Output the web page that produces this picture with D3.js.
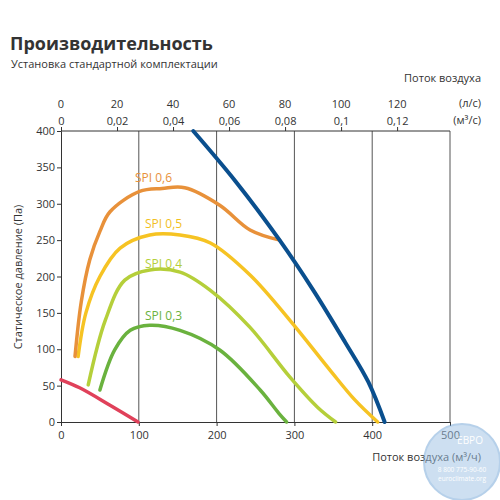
<!DOCTYPE html><html><head><meta charset="utf-8"><script src="https://cdn.jsdelivr.net/npm/d3@7"></script>
<style>body{margin:0;background:#fff}text{font-family:"Open Sans",sans-serif;fill:#333}</style></head><body>
<svg id="c" width="500" height="500"></svg>
<script>
const xTicks=[0,100,200,300,400,500];
const yTicks=[0,50,100,150,200,250,300,350,400];
const lsTicks=[0,20,40,60,80,100,120];
const m3sTicks=["0","0,02","0,04","0,06","0,08","0,1","0,12"];
const maxCurve=[[170,400],[225,330],[281,250],[325,180],[365,110],[395,55],[416,0]];
const spi06=[[18,90],[26,165],[37,223],[50,262],[63,289],[101,317],[130,321],[159,322],[204,298],[243,264],[281,250]];
const spi05=[[22,90],[32,150],[50,200],[76,239],[114,257],[153,257],[192,246],[243,202],[294,140],[346,71],[378,30],[407,0]];
const spi04=[[35,51],[57,140],[82,195],[114,209],[153,206],[192,181],[243,130],[294,62],[330,20],[353,0]];
const spi03=[[50,44],[69,99],[89,126],[114,133],[153,126],[204,99],[256,44],[280,12],[290,0]];
const minCurve=[[0,58],[24,47],[63,23],[99,0]];
const labels=[["SPI 0,6",95,330,"#e8913a"],["SPI 0,5",108,266,"#f2c01e"],["SPI 0,4",108,212,"#b5cf3a"],["SPI 0,3",108,140,"#6ab23e"]];
const svg=d3.select("#c");
const x=d3.scaleLinear().domain([0,500]).range([61,450]);
const y=d3.scaleLinear().domain([0,400]).range([422,131]);
svg.append("text").attr("x",10).attr("y",50).style("font-size","18px").style("font-weight","bold").text("Производительность");
svg.append("text").attr("x",11).attr("y",68).style("font-size","11px").text("Установка стандартной комплектации");
xTicks.slice(1).forEach(t=>svg.append("line").attr("x1",x(t)).attr("x2",x(t)).attr("y1",y(0)).attr("y2",y(400)).attr("stroke","#555").attr("stroke-width",1));
svg.append("line").attr("x1",x(0)).attr("x2",x(500)).attr("y1",y(400)).attr("y2",y(400)).attr("stroke","#333");
const xa=svg.append("g").attr("transform",`translate(0,${y(0)})`).call(d3.axisBottom(x).tickValues(xTicks).tickSize(4).tickPadding(5));
const ya=svg.append("g").attr("transform",`translate(${x(0)},0)`).call(d3.axisLeft(y).tickValues(yTicks).tickSize(4).tickPadding(2));
[xa,ya].forEach(g=>{g.selectAll("text").style("font-size","11px").style("font-family","Open Sans").attr("fill","#333");g.selectAll("line,path").attr("stroke","#333");});
const xt=d3.scaleLinear().domain([0,500/3.6]).range([61,450]);
svg.append("g").attr("transform",`translate(0,${y(400)})`).call(d3.axisTop(xt).tickValues(lsTicks).tickFormat((d,i)=>m3sTicks[i]).tickSize(4).tickPadding(2)).call(g=>{g.select("path").remove();g.selectAll("text").style("font-size","11px").attr("fill","#333");g.selectAll("line").attr("stroke","#333");});
lsTicks.forEach(v=>svg.append("text").attr("x",xt(v)).attr("y",108).attr("text-anchor","middle").style("font-size","11px").text(v));
svg.append("text").attr("x",481).attr("y",107).attr("text-anchor","end").style("font-size","11px").text("(л/с)");
svg.append("text").attr("x",481).attr("y",124).attr("text-anchor","end").style("font-size","11px").text("(м³/с)");
svg.append("text").attr("x",481).attr("y",82).attr("text-anchor","end").style("font-size","11px").text("Поток воздуха");
svg.append("text").attr("x",481).attr("y",461).attr("text-anchor","end").style("font-size","11px").text("Поток воздуха (м³/ч)");
svg.append("text").attr("transform","translate(22,277) rotate(-90)").attr("text-anchor","middle").style("font-size","11px").text("Статическое давление (Па)");
const line=d3.line().x(d=>x(d[0])).y(d=>y(d[1])).curve(d3.curveCatmullRom);
[[spi03,"#6ab23e"],[spi04,"#b5cf3a"],[spi05,"#f6c323"],[spi06,"#e8913a"],[minCurve,"#e0415a"],[maxCurve,"#0a4f8e"]].forEach(([d,c])=>
 svg.append("path").attr("d",line(d)).attr("fill","none").attr("stroke",c).attr("stroke-width",c=="#0a4f8e"?4:3.5).attr("stroke-linecap","round"));
labels.forEach(l=>svg.append("text").attr("x",x(l[1])).attr("y",y(l[2])).style("font-size","12px").style("fill",l[3]).text(l[0]));
const wm=svg.append("g").attr("opacity",0.5);
wm.append("circle").attr("cx",462).attr("cy",462).attr("r",38).attr("fill","#9cc1e4").attr("stroke","#6fa3d6").attr("stroke-width",2);
wm.append("text").attr("x",470).attr("y",444).attr("text-anchor","middle").style("font-size","10px").style("fill","#fff").text("ЕВРО");
wm.append("text").attr("x",462).attr("y",472).attr("text-anchor","middle").style("font-size","6.5px").style("fill","#fff").text("8 800 775-90-60");
wm.append("text").attr("x",462).attr("y",481).attr("text-anchor","middle").style("font-size","6.5px").style("fill","#fff").text("euroclimate.org");
</script></body></html>
